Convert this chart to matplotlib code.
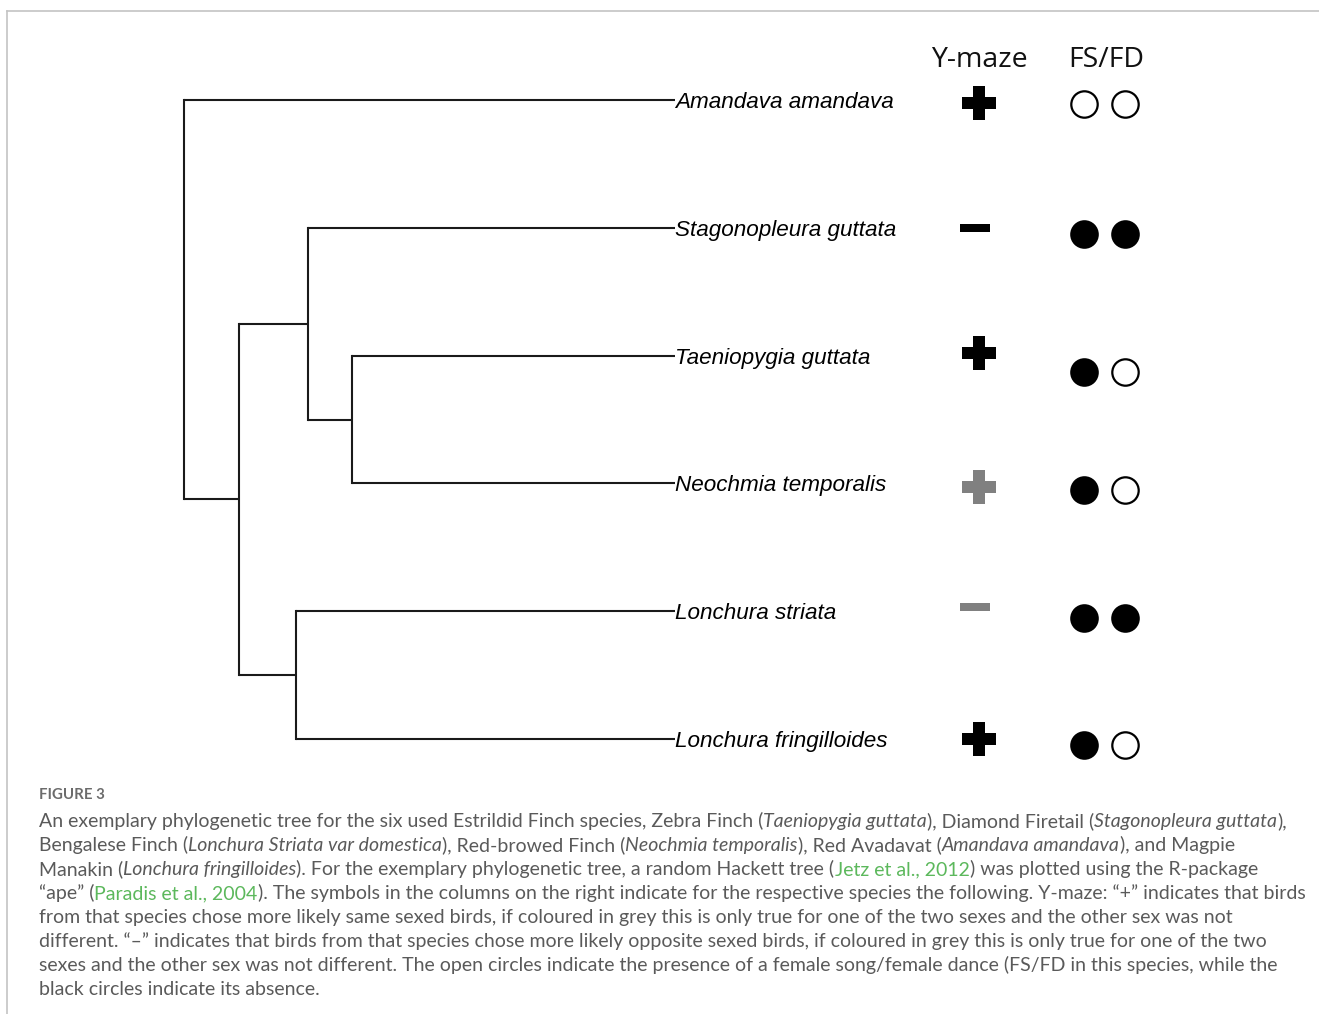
import numpy as np
import matplotlib
matplotlib.use("Agg")
import matplotlib.pyplot as plt
from matplotlib.path import Path

# tree: tips top to bottom, internal node depths (tip depth = 1.0)
TIPS = ["Amandava amandava", "Stagonopleura guttata", "Taeniopygia guttata",
        "Neochmia temporalis", "Lonchura striata", "Lonchura fringilloides"]
NODE_DEPTH = {"root": 0.0, "n1": 0.112, "n2": 0.253, "n3": 0.342, "n4": 0.228}
EDGES = [("root", "Amandava amandava"), ("root", "n1"),
         ("n1", "n2"), ("n1", "n4"),
         ("n2", "Stagonopleura guttata"), ("n2", "n3"),
         ("n3", "Taeniopygia guttata"), ("n3", "Neochmia temporalis"),
         ("n4", "Lonchura striata"), ("n4", "Lonchura fringilloides")]

# Y-maze result per species: sign and whether it holds for both sexes
YMAZE_SIGN = ["+", "-", "+", "+", "-", "+"]
YMAZE_BOTH = [True, True, True, False, False, True]
# FS/FD presence (True = open circle = present)
FS_PRESENT = [[True, True], [False, False], [False, True],
              [False, True], [False, False], [False, True]]

CAPTION = [
    [("An exemplary phylogenetic tree for the six used Estrildid Finch species, Zebra Finch (", "n"),
     ("Taeniopygia guttata", "i"), ("), Diamond Firetail (", "n"),
     ("Stagonopleura guttata", "i"), ("),", "n")],
    [("Bengalese Finch (", "n"), ("Lonchura Striata var domestica", "i"),
     ("), Red-browed Finch (", "n"), ("Neochmia temporalis", "i"),
     ("), Red Avadavat (", "n"), ("Amandava amandava", "i"), ("), and Magpie", "n")],
    [("Manakin (", "n"), ("Lonchura fringilloides", "i"),
     ("). For the exemplary phylogenetic tree, a random Hackett tree (", "n"),
     ("Jetz et al., 2012", "g"), (") was plotted using the R-package", "n")],
    [("\u201cape\u201d (", "n"), ("Paradis et al., 2004", "g"),
     ("). The symbols in the columns on the right indicate for the respective species the following. Y-maze: \u201c+\u201d indicates that birds", "n")],
    [("from that species chose more likely same sexed birds, if coloured in grey this is only true for one of the two sexes and the other sex was not", "n")],
    [("different. \u201c\u2013\u201d indicates that birds from that species chose more likely opposite sexed birds, if coloured in grey this is only true for one of the two", "n")],
    [("sexes and the other sex was not different. The open circles indicate the presence of a female song/female dance (FS/FD in this species, while the", "n")],
    [("black circles indicate its absence.", "n")],
]

W, H = 1319, 1014
fig = plt.figure(figsize=(W / 100, H / 100), dpi=100)
fig.patch.set_facecolor("white")

# frame
frame = fig.add_axes([0, 0, 1, 1])
frame.set_xlim(0, W)
frame.set_ylim(H, 0)
frame.axis("off")
frame.plot([7, W], [11, 11], color="#c4c4c4", lw=1.2)
frame.plot([7, 7], [11, H], color="#c4c4c4", lw=1.2)

# tree axes: 1 depth unit = 491 px, 1 tip = 127.8 px
ax = fig.add_axes([0, 0, 1, 1])
ax.axis("off")
x0, xs = 184, 491.0
y0, ys = 100, 127.8
ax.set_xlim(-x0 / xs, (W - x0) / xs)
ax.set_ylim((H - y0) / ys, -y0 / ys)

depth = dict(NODE_DEPTH)
ypos = {}
for i, t in enumerate(TIPS):
    depth[t] = 1.0
    ypos[t] = float(i)
children = {}
for p, c in EDGES:
    children.setdefault(p, []).append(c)


def node_y(n):
    if n in ypos:
        return ypos[n]
    ypos[n] = np.mean([node_y(c) for c in children[n]])
    return ypos[n]


node_y("root")
for p, c in EDGES:
    ax.plot([depth[p], depth[c]], [ypos[c], ypos[c]], color="#1a1a1a", lw=1.5,
            solid_capstyle="butt")
for p, cs in children.items():
    ys_c = [ypos[c] for c in cs]
    ax.plot([depth[p], depth[p]], [min(ys_c), max(ys_c)], color="#1a1a1a", lw=1.5,
            solid_capstyle="projecting")

for i, t in enumerate(TIPS):
    ax.text(1.0, i, t, fontsize=16.2, style="italic", family="Liberation Sans",
            ha="left", va="center_baseline", color="black")

# symbol columns
ycol = (979 - x0) / xs
c1 = (1084 - x0) / xs
c2 = (1125 - x0) / xs
minus_marker = Path([(-1, -0.26), (1, -0.26), (1, 0.26), (-1, 0.26), (-1, -0.26)],
                    [Path.MOVETO, Path.LINETO, Path.LINETO, Path.LINETO, Path.CLOSEPOLY])
sym_dy = [0.02, 0.0, -0.02, 0.03, -0.03, 0.0]
circ_dy = [0.03, 0.05, 0.13, 0.05, 0.05, 0.05]

ax.text(ycol, -0.31, "Y-maze", fontsize=20.5, family="Open Sans", ha="center",
        va="center", color="#111111")
ax.text((c1 + c2) / 2 + 0.003, -0.31, "FS/FD", fontsize=20.5, family="Open Sans",
        ha="center", va="center", color="#111111")

for i in range(len(TIPS)):
    col = "black" if YMAZE_BOTH[i] else "#808080"
    if YMAZE_SIGN[i] == "+":
        ax.plot(ycol, i + sym_dy[i], marker="P", ms=24.5, color=col, mew=0)
    else:
        ax.plot(ycol - 0.008, i + sym_dy[i], marker=minus_marker, ms=22.3,
                color=col, mew=0)
    for cx, present in zip([c1, c2], FS_PRESENT[i]):
        face = "white" if present else "black"
        ax.plot(cx, i + circ_dy[i], marker="o", ms=19, mfc=face, mec="black",
                mew=1.6)

# caption
frame.text(39, 799, "FIGURE 3", fontsize=10.8, family="Lato", weight="bold",
           color="#6b6b6b", ha="left", va="baseline")

fig.canvas.draw()
renderer = fig.canvas.get_renderer()
inv = frame.transData.inverted()
colors = {"n": "#5a5a5a", "i": "#5a5a5a", "g": "#5cb85c"}
for k, line in enumerate(CAPTION):
    x = 39.0
    yb = 827 + 24 * k
    for txt, kind in line:
        t = frame.text(x, yb, txt, fontsize=14.0, family="Lato",
                       style="italic" if kind == "i" else "normal",
                       color=colors[kind], ha="left", va="baseline")
        bb = t.get_window_extent(renderer)
        x = inv.transform((bb.x1, bb.y0))[0]

fig.savefig("out.png", dpi=100, facecolor="white")
